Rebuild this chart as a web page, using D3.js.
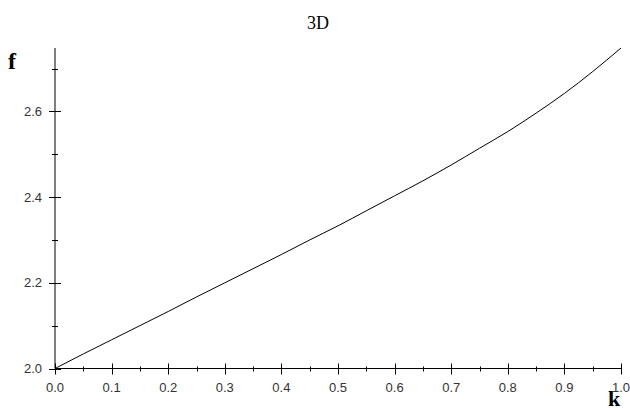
<!DOCTYPE html>
<html><head><meta charset="utf-8">
<script src="https://cdn.jsdelivr.net/npm/d3@7"></script>
<style>body{margin:0;background:#fff}</style>
</head><body>
<svg id="c" width="630" height="410"></svg>
<script>
const kValues = [0, 0.05, 0.1, 0.15, 0.2, 0.25, 0.3, 0.35, 0.4, 0.45, 0.5, 0.55, 0.6, 0.65, 0.7, 0.75, 0.8, 0.85, 0.9, 0.95, 1.0];
const fValues = [2.000, 2.034, 2.067, 2.100, 2.133, 2.167, 2.200, 2.233, 2.266, 2.300, 2.333, 2.368, 2.403, 2.438, 2.475, 2.514, 2.553, 2.596, 2.642, 2.693, 2.748];
const xTicks = [0, 0.1, 0.2, 0.3, 0.4, 0.5, 0.6, 0.7, 0.8, 0.9, 1.0];
const xMinor = [0.05, 0.15, 0.25, 0.35, 0.45, 0.55, 0.65, 0.75, 0.85, 0.95];
const yTicks = [2.0, 2.2, 2.4, 2.6];
const yMinor = [2.1, 2.3, 2.5, 2.7];
const title = "3D", xName = "k", yName = "f";

const svg = d3.select("#c");
const x = d3.scaleLinear().domain([0, 1]).range([55, 621]);
const y = d3.scaleLinear().domain([2.0, 2.748]).range([368.5, 48]);
const ax = "#000";

svg.append("line").attr("x1", x(0)).attr("x2", x(1)).attr("y1", y(2)).attr("y2", y(2)).attr("stroke", ax);
svg.append("line").attr("x1", x(0)).attr("x2", x(0)).attr("y1", y(2)).attr("y2", y(2.748)).attr("stroke", ax);

const xg = svg.append("g");
xTicks.forEach(t => {
  xg.append("line").attr("x1", Math.round(x(t)) + 0.5).attr("x2", Math.round(x(t)) + 0.5)
    .attr("y1", y(2) - 5).attr("y2", y(2) + 6).attr("stroke", ax);
  xg.append("text").attr("x", x(t)).attr("y", 392).attr("text-anchor", "middle")
    .attr("font-family", "Liberation Sans, Arial, sans-serif").attr("font-size", 13).attr("fill", "#333")
    .text(d3.format(".1f")(t));
});
xMinor.forEach(t => {
  xg.append("line").attr("x1", Math.round(x(t)) + 0.5).attr("x2", Math.round(x(t)) + 0.5)
    .attr("y1", y(2) - 2).attr("y2", y(2) + 3).attr("stroke", ax);
});
const yg = svg.append("g");
yTicks.forEach(t => {
  yg.append("line").attr("x1", x(0) - 6).attr("x2", x(0) + 6)
    .attr("y1", Math.round(y(t)) + 0.5).attr("y2", Math.round(y(t)) + 0.5).attr("stroke", ax);
  yg.append("text").attr("x", 42).attr("y", y(t) + 4.5).attr("text-anchor", "end")
    .attr("font-family", "Liberation Sans, Arial, sans-serif").attr("font-size", 13).attr("fill", "#333")
    .text(d3.format(".1f")(t));
});
yMinor.forEach(t => {
  yg.append("line").attr("x1", x(0) - 3).attr("x2", x(0) + 3)
    .attr("y1", Math.round(y(t)) + 0.5).attr("y2", Math.round(y(t)) + 0.5).attr("stroke", ax);
});

const pts = kValues.map((k, i) => [k, fValues[i]]);
svg.append("path").datum(pts)
  .attr("d", d3.line().x(d => x(d[0])).y(d => y(d[1])).curve(d3.curveMonotoneX))
  .attr("fill", "none").attr("stroke", "#000").attr("stroke-width", 1);

svg.append("text").attr("x", 318).attr("y", 28.5).attr("text-anchor", "middle")
  .attr("font-family", "Liberation Serif, Times New Roman, serif").attr("font-size", 18)
  .text(title);
svg.append("text").attr("x", 8).attr("y", 68.5)
  .attr("font-family", "Liberation Serif, Times New Roman, serif").attr("font-size", 24).attr("font-weight", "bold")
  .text(yName);
svg.append("text").attr("x", 608).attr("y", 406)
  .attr("font-family", "Liberation Serif, Times New Roman, serif").attr("font-size", 22).attr("font-weight", "bold")
  .text(xName);
</script>
</body></html>
